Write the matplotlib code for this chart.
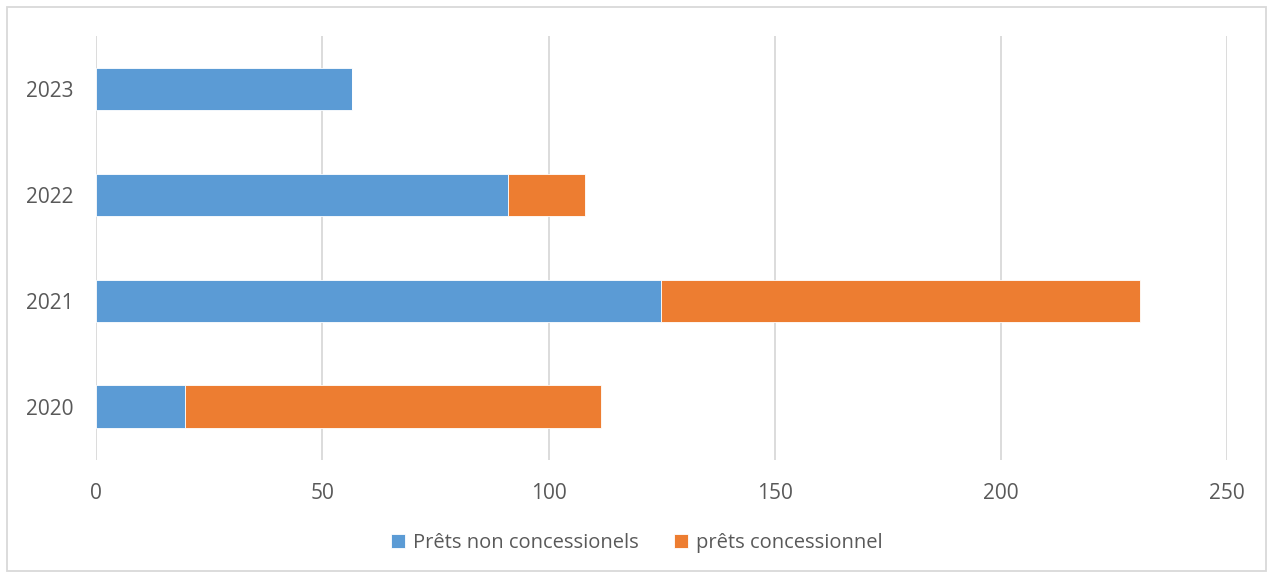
import matplotlib
matplotlib.use("Agg")
import matplotlib.pyplot as plt
from matplotlib.patches import Rectangle

years = ["2020", "2021", "2022", "2023"]
non_concessional = [19.7, 124.8, 91.0, 56.5]
concessional = [91.9, 106.0, 17.0, 0.0]
x_ticks = [0, 50, 100, 150, 200, 250]

plt.rcParams['font.family'] = ['Open Sans', 'DejaVu Sans']
text_color = "#595959"

fig = plt.figure(figsize=(12.73, 5.78), dpi=100)
ax = fig.add_axes([96.3/1273, 1 - 459.5/578, (1227 - 96.3)/1273, (459.5 - 36)/578])

ypos = list(range(len(years)))
ax.barh(ypos, non_concessional, height=0.4, color="#5B9BD5", edgecolor="white",
        linewidth=0.6, label="Prêts non concessionels", zorder=3)
ax.barh(ypos, concessional, left=non_concessional, height=0.4, color="#ED7D31",
        edgecolor="white", linewidth=0.6, label="prêts concessionnel", zorder=3)

ax.set_xlim(0, 250)
ax.set_ylim(-0.5, 3.5)
ax.set_xticks(x_ticks)
ax.set_xticklabels([str(t) for t in x_ticks])
ax.set_yticks(ypos)
ax.set_yticklabels(years)
ax.xaxis.grid(True, color="#D9D9D9", linewidth=1.3, zorder=0)
ax.set_axisbelow(True)
for s in ax.spines.values():
    s.set_visible(False)
ax.tick_params(axis='both', length=0, labelsize=15, colors=text_color)
ax.tick_params(axis='x', pad=17)
ax.tick_params(axis='y', pad=16.5)

leg = fig.legend(loc="center", bbox_to_anchor=(637/1273, 1 - 543/578), ncol=2,
                 frameon=False, fontsize=14.5, handlelength=0.7, handleheight=0.7,
                 handletextpad=0.4, columnspacing=1.75)
for t in leg.get_texts():
    t.set_color(text_color)

fig.patches.append(Rectangle((7/1273, 7/578), 1259/1273, 564/578, transform=fig.transFigure,
                             fill=False, edgecolor="#D9D9D9", linewidth=1.3))

fig.savefig("out.png", dpi=100, facecolor="white")
